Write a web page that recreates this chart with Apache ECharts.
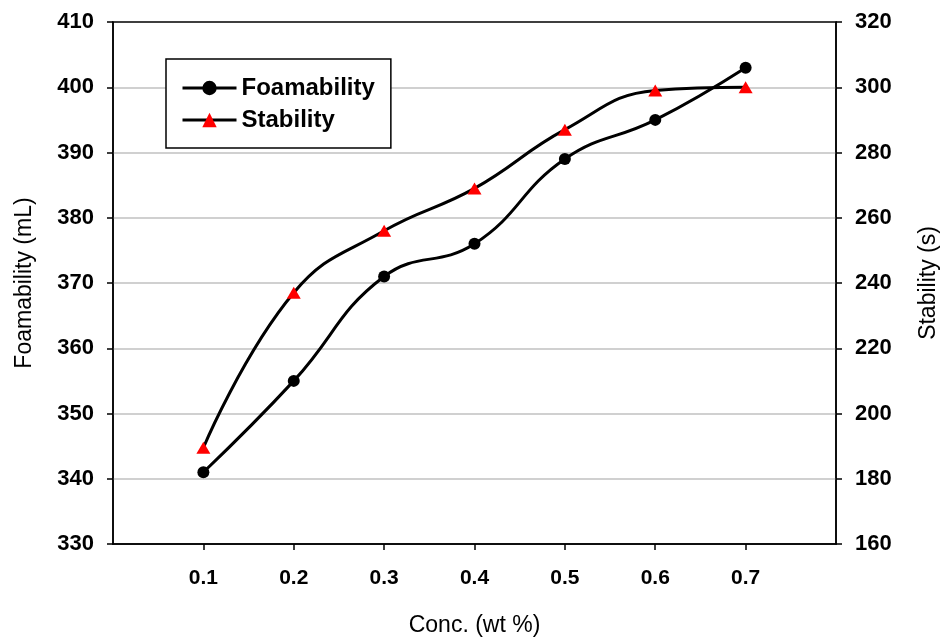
<!DOCTYPE html>
<html>
<head>
<meta charset="utf-8">
<script src="https://cdn.jsdelivr.net/npm/echarts@6/dist/echarts.min.js"></script>
<style>html,body{margin:0;padding:0;background:#fff}#c{width:948px;height:644px}</style>
</head>
<body>
<div id="c"></div>
<script>
const conc = [0.1, 0.2, 0.3, 0.4, 0.5, 0.6, 0.7];
const foamability = [341, 355, 371, 376, 389, 395, 403];
const stability = [189.5, 237, 256, 269, 287, 299, 300];
const leftTicks = [330, 340, 350, 360, 370, 380, 390, 400, 410];
const rightTicks = [160, 180, 200, 220, 240, 260, 280, 300, 320];

const FONT = 'Liberation Sans, Arial, sans-serif';
const chart = echarts.init(document.getElementById('c'));
chart.setOption({
  animation: false,
  backgroundColor: '#fff',
  grid: { left: 113, right: 109, top: 22, bottom: 100, show: true, borderColor: '#000', borderWidth: 1.5, backgroundColor: 'transparent' },
  legend: {
    orient: 'vertical', left: 166, top: 59,
    padding: [17, 16, 16, 15],
    itemWidth: 54, itemHeight: 18, itemGap: 8, itemTextGap: 14,
    borderColor: '#000', borderWidth: 1.5, backgroundColor: '#fff',
    lineStyle: { width: 3 },
    textStyle: { fontFamily: FONT, fontSize: 24, fontWeight: 'bold', color: '#000' },
    data: ['Foamability', 'Stability']
  },
  xAxis: {
    type: 'value', min: 0, max: 0.8, interval: 0.1,
    name: 'Conc. (wt %)', nameLocation: 'middle', nameGap: 70,
    nameTextStyle: { fontFamily: FONT, fontSize: 23, color: '#000' },
    axisLine: { show: true, lineStyle: { color: '#000', width: 1.5 } },
    axisTick: { show: true, inside: false, length: 6, customValues: conc, lineStyle: { color: '#000', width: 1.5 } },
    axisLabel: { customValues: conc, margin: 24, fontFamily: FONT, fontSize: 21, fontWeight: 'bold', color: '#000', formatter: v => v.toFixed(1) },
    splitLine: { show: false }
  },
  yAxis: [{
    type: 'value', min: 330, max: 410, interval: 10, position: 'left',
    name: 'Foamability (mL)', nameLocation: 'middle', nameGap: 77,
    nameTextStyle: { fontFamily: FONT, fontSize: 23, color: '#000' },
    axisLine: { show: true, lineStyle: { color: '#000', width: 1.5 } },
    axisTick: { show: true, length: 6, lineStyle: { color: '#000', width: 1.5 } },
    axisLabel: { margin: 19, fontFamily: FONT, fontSize: 22, fontWeight: 'bold', color: '#000', customValues: leftTicks },
    splitLine: { show: true, showMaxLine: false, showMinLine: false, lineStyle: { color: '#c0c0c0', width: 1.5 } }
  }, {
    type: 'value', min: 160, max: 320, interval: 20, position: 'right',
    name: 'Stability (s)', nameLocation: 'middle', nameGap: 81,
    nameTextStyle: { fontFamily: FONT, fontSize: 23, color: '#000' },
    axisLine: { show: true, lineStyle: { color: '#000', width: 1.5 } },
    axisTick: { show: true, length: 6, lineStyle: { color: '#000', width: 1.5 } },
    axisLabel: { margin: 19, fontFamily: FONT, fontSize: 22, fontWeight: 'bold', color: '#000', customValues: rightTicks },
    splitLine: { show: false }
  }],
  series: [{
    name: 'Foamability', type: 'line', yAxisIndex: 0, smooth: 0.45,
    data: conc.map((c, i) => [c, foamability[i]]),
    symbol: 'circle', symbolSize: 12,
    itemStyle: { color: '#000' },
    lineStyle: { color: '#000', width: 3 },
    z: 3
  }, {
    name: 'Stability', type: 'line', yAxisIndex: 1, smooth: 0.45,
    data: conc.map((c, i) => [c, stability[i]]),
    symbol: 'triangle', symbolSize: [14, 12],
    itemStyle: { color: '#ff0000' },
    lineStyle: { color: '#000', width: 3 },
    z: 3
  }]
});
</script>
</body>
</html>
